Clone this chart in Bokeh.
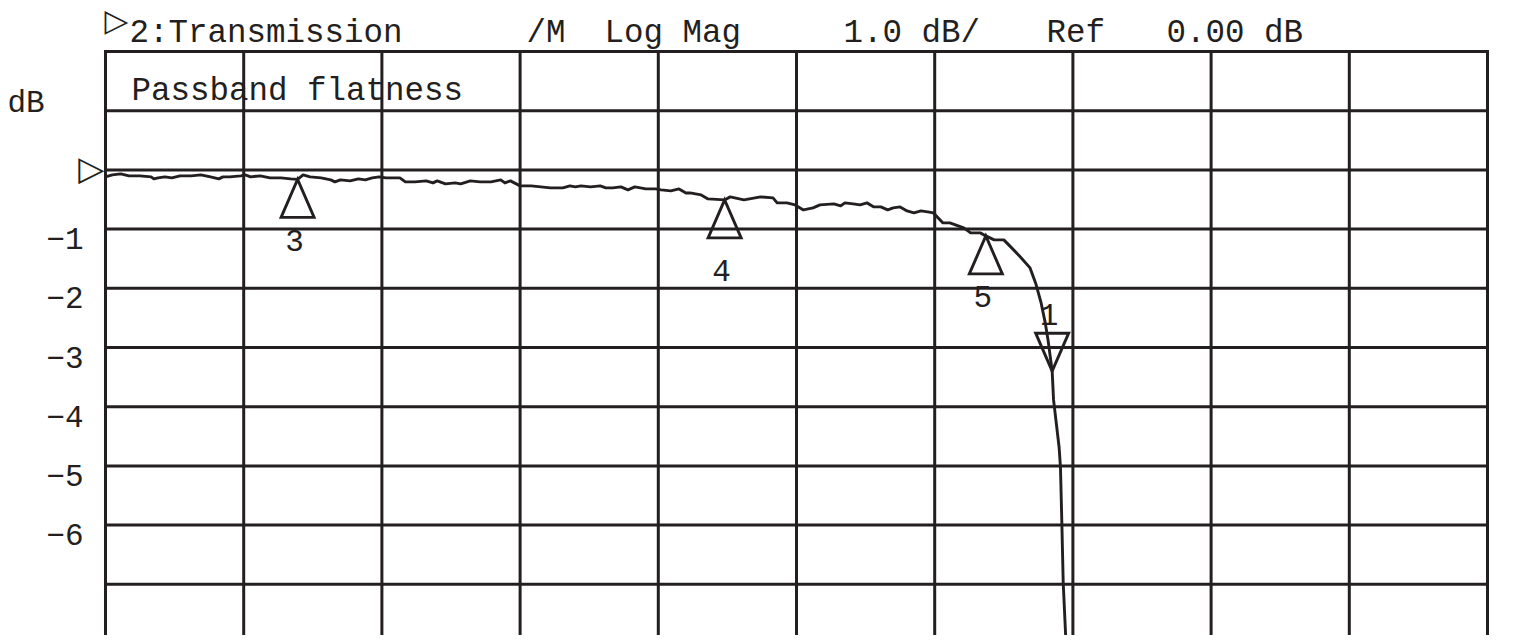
from bokeh.plotting import figure
from bokeh.core.properties import value
from bokeh.embed import file_html
from bokeh.resources import INLINE

# ---------------- data ----------------
# frequency in screen divisions (0..10), magnitude in dB
freq_div = [0.00, 0.05, 0.11, 0.17, 0.25, 0.33, 0.35, 0.38, 0.43, 0.48, 0.54, 0.62, 0.69, 0.76, 0.82,
            0.85, 0.90, 0.98, 1.01, 1.05, 1.12, 1.19, 1.27, 1.34, 1.39, 1.43, 1.48, 1.56, 1.63, 1.66,
            1.70, 1.77, 1.83, 1.88, 1.93, 1.98, 2.03, 2.13, 2.17, 2.24, 2.32, 2.37, 2.40, 2.46, 2.53,
            2.57, 2.64, 2.71, 2.79, 2.86, 2.89, 2.93, 3.00, 3.08, 3.15, 3.22, 3.31, 3.36, 3.40, 3.44,
            3.51, 3.58, 3.62, 3.67, 3.73, 3.78, 3.83, 3.91, 3.98, 4.02, 4.09, 4.15, 4.20, 4.23, 4.31,
            4.36, 4.48, 4.52, 4.62, 4.74, 4.83, 4.86, 4.93, 4.99, 5.05, 5.12, 5.17, 5.27, 5.32, 5.35,
            5.41, 5.46, 5.51, 5.56, 5.61, 5.66, 5.70, 5.75, 5.80, 5.85, 5.90, 5.95, 5.99, 6.06, 6.11,
            6.21, 6.26, 6.33, 6.37, 6.43, 6.50, 6.55, 6.62, 6.69, 6.73, 6.77, 6.80, 6.82, 6.85, 6.86,
            6.90, 6.91, 6.92, 6.93, 6.95, 6.96]
mag_db = [-0.118, -0.084, -0.067, -0.101, -0.101, -0.118, -0.152, -0.135, -0.118, -0.135, -0.101, -0.101,
          -0.084, -0.118, -0.152, -0.118, -0.118, -0.101, -0.084, -0.118, -0.101, -0.135, -0.135, -0.152,
          -0.160, -0.084, -0.118, -0.135, -0.169, -0.203, -0.169, -0.186, -0.152, -0.169, -0.135, -0.118,
          -0.135, -0.135, -0.203, -0.203, -0.186, -0.220, -0.186, -0.236, -0.220, -0.236, -0.186, -0.203,
          -0.203, -0.169, -0.220, -0.186, -0.270, -0.270, -0.287, -0.304, -0.304, -0.270, -0.287, -0.270,
          -0.287, -0.270, -0.304, -0.304, -0.287, -0.338, -0.287, -0.321, -0.321, -0.338, -0.355, -0.321,
          -0.389, -0.389, -0.422, -0.490, -0.507, -0.456, -0.507, -0.456, -0.473, -0.557, -0.557, -0.591,
          -0.676, -0.642, -0.591, -0.574, -0.608, -0.557, -0.574, -0.591, -0.557, -0.625, -0.625, -0.676,
          -0.642, -0.625, -0.693, -0.726, -0.693, -0.709, -0.726, -0.895, -0.895, -0.980, -1.064, -1.064,
          -1.115, -1.182, -1.182, -1.300, -1.470, -1.655, -1.909, -2.247, -2.584, -2.872, -3.400, -3.885,
          -4.680, -5.020, -5.960, -6.980, -7.990, -8.600]

marker_ids = ["3", "4", "5", "1"]
marker_x = [1.39, 4.48, 6.37, 6.85]
marker_db = [-0.160, -0.507, -1.115, -3.400]
marker_up = [True, True, True, False]

xgrid_ticks = [0, 1, 2, 3, 4, 5, 6, 7, 8, 9, 10]
ygrid_ticks = [-8, -7, -6, -5, -4, -3, -2, -1, 0, 1, 2]
ytick_values = [-1, -2, -3, -4, -5, -6]
ytick_labels = ["\u22121", "\u22122", "\u22123", "\u22124", "\u22125", "\u22126"]
y_unit = "dB"
ref_level_db = 0.0

header_texts = ["2:Transmission", "/M\u00a0\u00a0Log\u00a0Mag", "1.0\u00a0dB/", "Ref", "0.00\u00a0dB"]
trace_title = "Passband\u00a0flatness"

# ---------------- layout / style ----------------
C = "#231f20"
X0, X1 = 0, 10
Y0, Y1 = -8, 2
W, H = 1504, 635
FRAME_LEFT, FRAME_TOP = 105, 51
PX_X = 1382 / (X1 - X0)
PX_Y = 592 / (Y1 - Y0)
BASE_FIX = 9  # px: lift of alphabetic baselines


def dx(px):
    return X0 + (px - FRAME_LEFT) / PX_X


def dy(py):
    return Y1 - (py - FRAME_TOP) / PX_Y


header_px = [129, 526, 843, 1046, 1166]
MONO = value("Liberation Mono")
TRI_W, TRI_H = 33, 38
label_gap = [32, 42, 32, 10]
LW = 3.0

p = figure(width=W, height=H, x_range=(dx(0), dx(W)), y_range=(dy(H), dy(0)),
           x_axis_location=None, y_axis_location=None,
           toolbar_location=None, output_backend="svg", title=None,
           min_border_left=0, min_border_right=0, min_border_top=0, min_border_bottom=0)
p.background_fill_color = "white"
p.border_fill_color = "white"
p.outline_line_color = None
p.xgrid.visible = False
p.ygrid.visible = False

# graticule
p.segment(x0=xgrid_ticks, x1=xgrid_ticks, y0=[Y0] * len(xgrid_ticks), y1=[Y1] * len(xgrid_ticks),
          line_color=C, line_width=LW, line_cap="square")
p.segment(x0=[X0] * len(ygrid_ticks), x1=[X1] * len(ygrid_ticks), y0=ygrid_ticks, y1=ygrid_ticks,
          line_color=C, line_width=LW, line_cap="square")

# trace
p.line(freq_div, mag_db, line_color=C, line_width=2.9, line_join="round")

# marker triangles (apex on the trace)
hw = TRI_W / 2 / PX_X
th = TRI_H / PX_Y
xs, ys, lx, ly = [], [], [], []
for mx, my, up, gap in zip(marker_x, marker_db, marker_up, label_gap):
    s = -1 if up else 1
    xs.append([mx, mx - hw, mx + hw])
    ys.append([my, my + s * th, my + s * th])
    lx.append(mx - 3 / PX_X)
    ly.append(my + s * (th + gap / PX_Y) + BASE_FIX / PX_Y)
p.patches(xs, ys, fill_alpha=0, line_color=C, line_width=2.9, line_join="miter")
p.text(lx, ly, text=marker_ids, text_font=MONO, text_font_size="31px",
       text_color=C, text_align="center", text_baseline="alphabetic")

# y tick labels and unit
p.text([X0 - 22 / PX_X] * len(ytick_values), [v - (18.5 - BASE_FIX) / PX_Y for v in ytick_values],
       text=ytick_labels, text_font=MONO, text_font_size="31px", text_color=C, text_align="right",
       text_baseline="alphabetic")
p.text([dx(7)], [dy(112 - BASE_FIX)], text=[y_unit], text_font=MONO, text_font_size="31px",
       text_color=C, text_align="left", text_baseline="alphabetic")

# reference level marker
p.text([X0 - 1 / PX_X], [ref_level_db + 2 / PX_Y], text=["\u25b7"], text_font=value("DejaVu Sans"),
       text_font_size="34px", text_font_style="bold", text_color=C, text_align="right",
       text_baseline="middle")

# header
p.text([dx(104)], [dy(19)], text=["\u25b7"], text_font=value("DejaVu Sans"),
       text_font_size="31px", text_font_style="bold", text_color=C, text_align="left",
       text_baseline="middle")
p.text([dx(v) for v in header_px], [dy(42 - BASE_FIX)] * len(header_texts), text=header_texts,
       text_font=MONO, text_font_size="32.5px", text_color=C, text_align="left",
       text_baseline="alphabetic")
p.text([dx(131)], [dy(100 - BASE_FIX)], text=[trace_title], text_font=MONO,
       text_font_size="32.5px", text_color=C, text_align="left", text_baseline="alphabetic")

open("out.html", "w").write(file_html(p, INLINE))
